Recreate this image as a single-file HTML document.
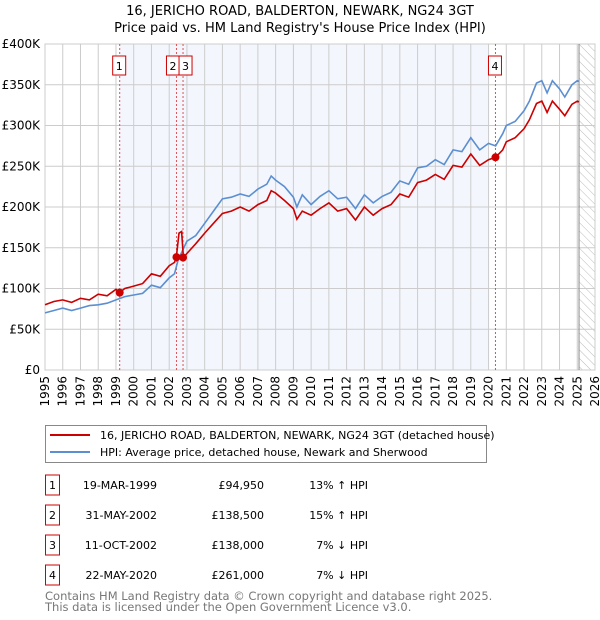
<!DOCTYPE html>
<html><head><meta charset="utf-8"><style>
body{margin:0;background:#fff;font-family:"DejaVu Sans","Liberation Sans",sans-serif;}
svg{display:block}
</style></head><body>
<svg id="chart" width="600" height="620" font-family="DejaVu Sans, Liberation Sans, sans-serif">
<text x="300" y="15" text-anchor="middle" font-size="13">16, JERICHO ROAD, BALDERTON, NEWARK, NG24 3GT</text>
<text x="300" y="32" text-anchor="middle" font-size="13">Price paid vs. HM Land Registry's House Price Index (HPI)</text>
<defs><pattern id="hatch" width="6" height="6" patternUnits="userSpaceOnUse" patternTransform="rotate(-45)"><line x1="0" y1="0" x2="0" y2="6" stroke="#bbb" stroke-width="1"/></pattern></defs>
<g id="plot"></g>
<g>
<rect x="45.5" y="425.5" width="441" height="37" fill="#fff" stroke="#888"/>
<line x1="50" y1="435" x2="90" y2="435" stroke="#cc0000" stroke-width="2"/>
<text x="100" y="439" font-size="11">16, JERICHO ROAD, BALDERTON, NEWARK, NG24 3GT (detached house)</text>
<line x1="50" y1="452" x2="90" y2="452" stroke="#5b8fd1" stroke-width="2"/>
<text x="100" y="456" font-size="11">HPI: Average price, detached house, Newark and Sherwood</text>
</g>
<g id="table" font-size="11"></g>
<text x="45" y="600" font-size="11.5" fill="#777">Contains HM Land Registry data © Crown copyright and database right 2025.</text>
<text x="45" y="611" font-size="11.5" fill="#777">This data is licensed under the Open Government Licence v3.0.</text>
</svg>
<script>
const yTicks=[0,50000,100000,150000,200000,250000,300000,350000,400000];
const yTickLabels=["£0","£50K","£100K","£150K","£200K","£250K","£300K","£350K","£400K"];
const xYears=[1995,1996,1997,1998,1999,2000,2001,2002,2003,2004,2005,2006,2007,2008,2009,2010,2011,2012,2013,2014,2015,2016,2017,2018,2019,2020,2021,2022,2023,2024,2025,2026];
const hpiDates=[1995,1995.5,1996,1996.5,1997,1997.5,1998,1998.5,1999,1999.5,2000,2000.5,2001,2001.5,2002,2002.3,2002.5,2003,2003.5,2004,2004.5,2005,2005.5,2006,2006.5,2007,2007.5,2007.75,2008,2008.5,2009,2009.2,2009.5,2010,2010.5,2011,2011.5,2012,2012.5,2013,2013.5,2014,2014.5,2015,2015.5,2016,2016.5,2017,2017.5,2018,2018.5,2019,2019.5,2020,2020.4,2020.8,2021,2021.5,2022,2022.3,2022.7,2023,2023.3,2023.6,2024,2024.3,2024.7,2025,2025.1];
const hpiValues=[70,73,76,73,76,79,80,82,86,90,92,94,104,101,113,118,135,158,165,180,195,210,212,216,213,222,228,238,233,225,212,200,215,203,213,220,210,212,198,215,205,213,218,232,228,248,250,258,252,270,268,285,270,278,275,290,300,305,318,330,352,355,340,355,345,335,350,355,354];
const priceDates=[1995,1995.5,1996,1996.5,1997,1997.5,1998,1998.5,1999,1999.2,1999.5,2000,2000.5,2001,2001.5,2002,2002.3,2002.4,2002.55,2002.7,2002.8,2003,2003.5,2004,2004.5,2005,2005.5,2006,2006.5,2007,2007.5,2007.75,2008,2008.5,2009,2009.2,2009.5,2010,2010.5,2011,2011.5,2012,2012.5,2013,2013.5,2014,2014.5,2015,2015.5,2016,2016.5,2017,2017.5,2018,2018.5,2019,2019.5,2020,2020.4,2020.8,2021,2021.5,2022,2022.3,2022.7,2023,2023.3,2023.6,2024,2024.3,2024.7,2025,2025.1];
const priceValues=[80,84,86,83,88,86,93,91,99,95,100,103,106,118,115,128,132,138,168,170,138,143,155,168,180,192,195,200,195,203,208,220,217,208,198,185,195,190,198,205,195,198,184,200,190,198,203,216,212,230,233,240,234,251,249,265,251,258,261,270,280,285,296,307,327,330,316,330,320,312,326,330,329];
const saleLabels=["1","2","3","4"];
const saleDates=[1999.21,2002.41,2002.78,2020.39];
const salePrices=[94950,138500,138000,261000];
const saleDateText=["19-MAR-1999","31-MAY-2002","11-OCT-2002","22-MAY-2020"];
const salePriceText=["£94,950","£138,500","£138,000","£261,000"];
const saleHpiText=["13% ↑ HPI","15% ↑ HPI","7% ↓ HPI","7% ↓ HPI"];

const NS="http://www.w3.org/2000/svg";
const X0=45,X1=595,Y0=370,Y1=44;
const xs=t=>X0+(t-1995)/(2026-1995)*(X1-X0);
const ys=v=>Y0-v/400000*(Y0-Y1);
const plot=document.getElementById('plot');
function mk(tag,attrs,parent){const e=document.createElementNS(NS,tag);for(const k in attrs)e.setAttribute(k,attrs[k]);(parent||plot).appendChild(e);return e;}

let e=mk('rect',{x:xs(1999.21),y:Y1,width:xs(2020.0)-xs(1999.21),height:Y0-Y1,fill:'#eef3fc',opacity:0.7});


e=mk('rect',{x:xs(2025.1),y:Y1,width:X1-xs(2025.1),height:Y0-Y1,fill:'url(#hatch)'});


xYears.forEach(yr=>{
  e=mk('line',{x1:xs(yr),x2:xs(yr),y1:Y1,y2:Y0,stroke:'#ccc','stroke-width':1});
  
  
  e=mk('text',{x:0,y:0,'font-size':12,transform:`translate(${xs(yr)+4},${Y0+6}) rotate(-90)`,'text-anchor':'end'});
  e.textContent=yr;
  
  
});
yTicks.forEach((v,i)=>{
  e=mk('line',{x1:X0,x2:X1,y1:ys(v),y2:ys(v),stroke:'#ccc','stroke-width':1});
  
  
  e=mk('text',{x:X0-5,y:ys(v)+4,'font-size':12,'text-anchor':'end'});
  e.textContent=yTickLabels[i];
  
  
});
e=mk('rect',{x:X0,y:Y1,width:X1-X0,height:Y0-Y1,fill:'none',stroke:'#ccc'});


e=mk('line',{x1:xs(2025.1),x2:xs(2025.1),y1:Y1,y2:Y0,stroke:'#888','stroke-width':1});


saleDates.forEach((d,i)=>{
  e=mk('line',{x1:xs(d),x2:xs(d),y1:Y1,y2:Y0,stroke:'#e05050','stroke-width':1,'stroke-dasharray':'2,2'});
  
  
});
function path(dates,vals,col,name){
  const d=dates.map((t,i)=>(i?'L':'M')+xs(t).toFixed(1)+','+ys(vals[i]*1000).toFixed(1)).join('');
  const p=mk('path',{d:d,fill:'none',stroke:col,'stroke-width':1.6});
  
  
}
path(hpiDates,hpiValues,'#5b8fd1','hpi-line');
path(priceDates,priceValues,'#cc0000','price-paid-line');
saleDates.forEach((d,i)=>{
  e=mk('circle',{cx:xs(d),cy:ys(salePrices[i]),r:4,fill:'#cc0000'});
  
  
  const bx=i===1?xs(d)-10:(i===2?xs(d)-4:xs(d)-7);
  e=mk('rect',{x:bx,y:56,width:13,height:19,fill:'#fff',stroke:'#cc0000'});
  
  
  e=mk('text',{x:bx+6.5,y:70,'font-size':11,'text-anchor':'middle'});
  e.textContent=saleLabels[i];
  
  
});
const table=document.getElementById('table');
saleLabels.forEach((l,i)=>{
  const cy=483+i*30;
  const g=mk('g',{},table);
  
  
  e=mk('rect',{x:45.5,y:cy-8,width:14,height:20,fill:'#fff',stroke:'#cc0000'},g);
  
  
  const cells=[[52.5,'middle',l,'sale-row-number'],[157,'end',saleDateText[i],'sale-row-date'],[264,'end',salePriceText[i],'sale-row-price'],[368,'end',saleHpiText[i],'sale-row-hpi']];
  cells.forEach(c=>{
    e=mk('text',{x:c[0],y:cy+6,'text-anchor':c[1],'font-size':11},g);
    e.textContent=c[2];
    
    
  });
});
</script>
</body></html>
